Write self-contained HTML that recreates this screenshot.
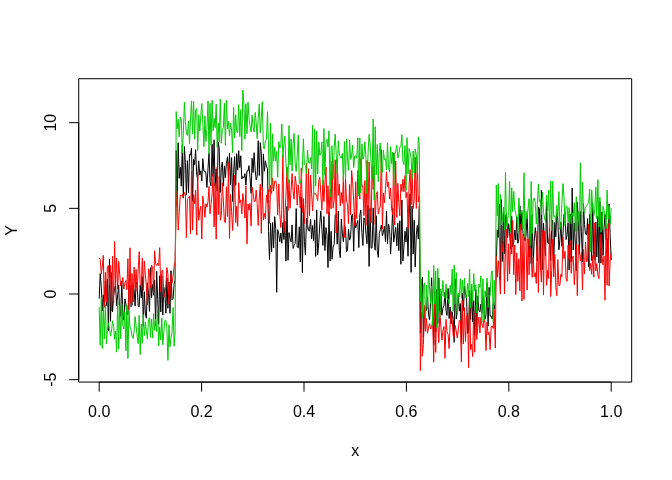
<!DOCTYPE html>
<html><head><meta charset="utf-8"><style>
html,body{margin:0;padding:0;background:#fff;width:672px;height:480px;overflow:hidden}
svg{display:block}
text{font-family:"Liberation Sans",Arial,sans-serif;font-size:16px;fill:#000}
</style></head><body>
<svg width="672" height="480" viewBox="0 0 672 480">
<rect width="672" height="480" fill="#fff"/>
<g shape-rendering="auto">
<rect x="78.72" y="78.72" width="552.96" height="303.36" fill="none" stroke="#000" stroke-width="1" stroke-linejoin="round"/>
<line x1="99.2" y1="382.08" x2="611.2" y2="382.08" stroke="#000" stroke-width="1"/>
<line x1="99.20" y1="382.08" x2="99.20" y2="391.68" stroke="#000" stroke-width="1"/>
<line x1="201.60" y1="382.08" x2="201.60" y2="391.68" stroke="#000" stroke-width="1"/>
<line x1="304.00" y1="382.08" x2="304.00" y2="391.68" stroke="#000" stroke-width="1"/>
<line x1="406.40" y1="382.08" x2="406.40" y2="391.68" stroke="#000" stroke-width="1"/>
<line x1="508.80" y1="382.08" x2="508.80" y2="391.68" stroke="#000" stroke-width="1"/>
<line x1="611.20" y1="382.08" x2="611.20" y2="391.68" stroke="#000" stroke-width="1"/>
<line x1="78.72" y1="379.65" x2="78.72" y2="122.70" stroke="#000" stroke-width="1"/>
<line x1="69.12" y1="379.65" x2="78.72" y2="379.65" stroke="#000" stroke-width="1"/>
<line x1="69.12" y1="294.00" x2="78.72" y2="294.00" stroke="#000" stroke-width="1"/>
<line x1="69.12" y1="208.35" x2="78.72" y2="208.35" stroke="#000" stroke-width="1"/>
<line x1="69.12" y1="122.70" x2="78.72" y2="122.70" stroke="#000" stroke-width="1"/>
</g>
<text x="99.20" y="417" text-anchor="middle">0.0</text>
<text x="201.60" y="417" text-anchor="middle">0.2</text>
<text x="304.00" y="417" text-anchor="middle">0.4</text>
<text x="406.40" y="417" text-anchor="middle">0.6</text>
<text x="508.80" y="417" text-anchor="middle">0.8</text>
<text x="611.20" y="417" text-anchor="middle">1.0</text>
<text transform="translate(55.6,379.65) rotate(-90)" text-anchor="middle">-5</text>
<text transform="translate(55.6,294.00) rotate(-90)" text-anchor="middle">0</text>
<text transform="translate(55.6,208.35) rotate(-90)" text-anchor="middle">5</text>
<text transform="translate(55.6,122.70) rotate(-90)" text-anchor="middle">10</text>
<text x="355.20" y="455.8" text-anchor="middle">x</text>
<text transform="translate(16.9,230.40) rotate(-90)" text-anchor="middle">Y</text>
<g clip-path="none">
<polyline fill="none" stroke="#000000" stroke-width="1" stroke-linejoin="round" stroke-linecap="round" points="99.2,298.3 100.2,273.6 101.3,286.4 102.3,310.9 103.3,294.8 104.3,307.2 105.4,281.1 106.4,305.6 107.4,279.0 108.4,331.1 109.5,259.0 110.5,321.4 111.5,272.6 112.5,311.9 113.6,295.8 114.6,288.4 115.6,285.5 116.6,306.0 117.7,294.8 118.7,284.9 119.7,317.4 120.7,313.2 121.8,281.2 122.8,316.0 123.8,320.1 124.9,299.0 125.9,304.1 126.9,314.3 127.9,314.4 129.0,286.7 130.0,285.1 131.0,306.8 132.0,305.3 133.1,285.2 134.1,289.1 135.1,306.0 136.1,282.2 137.2,284.8 138.2,306.4 139.2,306.8 140.2,285.2 141.3,297.8 142.3,276.7 143.3,326.2 144.3,291.7 145.4,314.0 146.4,318.3 147.4,282.9 148.5,293.8 149.5,311.4 150.5,267.7 151.5,298.0 152.6,284.4 153.6,295.3 154.6,280.1 155.6,325.5 156.7,271.3 157.7,299.5 158.7,324.3 159.7,275.8 160.8,311.9 161.8,275.6 162.8,315.1 163.8,287.3 164.9,294.9 165.9,313.2 166.9,277.8 167.9,308.3 169.0,281.9 170.0,313.3 171.0,270.7 172.0,299.8 173.1,298.4 174.1,284.2 175.1,280.1 176.2,150.5 177.2,198.9 178.2,142.7 179.2,178.3 180.3,167.4 181.3,186.2 182.3,144.8 183.3,198.2 184.4,146.6 185.4,162.7 186.4,195.0 187.4,160.6 188.5,192.7 189.5,154.2 190.5,155.1 191.5,148.0 192.6,201.3 193.6,159.4 194.6,164.6 195.6,149.6 196.7,174.4 197.7,179.3 198.7,160.8 199.8,175.0 200.8,170.8 201.8,180.9 202.8,158.7 203.9,171.1 204.9,171.0 205.9,173.0 206.9,187.5 208.0,168.4 209.0,152.9 210.0,181.7 211.0,185.7 212.1,144.2 213.1,176.3 214.1,139.8 215.1,186.2 216.2,168.8 217.2,191.2 218.2,142.0 219.2,147.9 220.3,192.3 221.3,167.8 222.3,162.0 223.4,186.2 224.4,165.8 225.4,177.6 226.4,163.3 227.5,156.7 228.5,176.5 229.5,153.2 230.5,184.7 231.6,157.6 232.6,201.4 233.6,172.8 234.6,156.6 235.7,185.4 236.7,153.6 237.7,170.2 238.7,150.6 239.8,167.7 240.8,155.8 241.8,179.0 242.8,176.4 243.9,178.2 244.9,173.6 245.9,185.2 247.0,170.7 248.0,171.2 249.0,165.6 250.0,177.5 251.1,193.4 252.1,158.3 253.1,172.5 254.1,152.7 255.2,170.1 256.2,179.9 257.2,176.3 258.2,140.7 259.3,175.5 260.3,142.7 261.3,153.2 262.3,189.9 263.4,153.9 264.4,171.3 265.4,160.8 266.4,166.3 267.5,168.8 268.5,231.6 269.5,259.5 270.6,223.1 271.6,252.1 272.6,222.5 273.6,247.9 274.7,216.6 275.7,228.4 276.7,292.3 277.7,229.7 278.8,234.5 279.8,241.7 280.8,233.0 281.8,243.2 282.9,222.6 283.9,239.5 284.9,221.1 285.9,261.2 287.0,206.4 288.0,260.3 289.0,232.5 290.0,238.2 291.1,241.9 292.1,224.9 293.1,248.4 294.1,245.5 295.2,243.2 296.2,208.5 297.2,247.0 298.3,247.9 299.3,226.8 300.3,261.9 301.3,196.8 302.4,272.7 303.4,204.3 304.4,241.3 305.4,254.9 306.5,218.1 307.5,224.5 308.5,230.4 309.5,231.1 310.6,218.9 311.6,238.9 312.6,225.6 313.6,240.5 314.7,219.8 315.7,256.4 316.7,209.9 317.7,254.8 318.8,242.4 319.8,223.4 320.8,210.9 321.9,229.3 322.9,245.4 323.9,216.5 324.9,250.6 326.0,227.6 327.0,235.6 328.0,267.6 329.0,211.9 330.1,261.1 331.1,231.3 332.1,259.2 333.1,247.0 334.2,244.1 335.2,215.1 336.2,215.1 337.2,244.2 338.3,211.1 339.3,250.5 340.3,257.7 341.3,218.9 342.4,233.8 343.4,241.7 344.4,224.8 345.5,228.4 346.5,251.5 347.5,250.7 348.5,229.3 349.6,240.1 350.6,237.2 351.6,215.6 352.6,213.9 353.7,251.3 354.7,213.7 355.7,228.0 356.7,224.4 357.8,220.5 358.8,247.6 359.8,214.8 360.8,210.0 361.9,232.7 362.9,245.5 363.9,217.8 364.9,220.1 366.0,234.5 367.0,243.7 368.0,205.4 369.1,266.5 370.1,208.3 371.1,248.1 372.1,247.8 373.2,207.9 374.2,242.1 375.2,250.2 376.2,215.7 377.3,250.6 378.3,257.4 379.3,233.6 380.3,229.5 381.4,225.0 382.4,235.6 383.4,232.4 384.4,226.4 385.5,241.5 386.5,211.0 387.5,243.6 388.5,224.0 389.6,229.4 390.6,254.0 391.6,236.1 392.7,208.3 393.7,242.1 394.7,234.9 395.7,227.4 396.8,245.7 397.8,223.2 398.8,250.7 399.8,220.7 400.9,264.3 401.9,200.0 402.9,260.8 403.9,247.1 405.0,231.3 406.0,241.9 407.0,227.3 408.0,256.2 409.1,215.8 410.1,193.8 411.1,272.4 412.1,206.2 413.2,254.0 414.2,220.3 415.2,267.0 416.3,234.9 417.3,225.4 418.3,239.0 419.3,205.9 420.4,333.2 421.4,294.9 422.4,277.3 423.4,337.4 424.5,308.7 425.5,311.4 426.5,310.2 427.5,296.8 428.6,314.8 429.6,319.7 430.6,301.9 431.6,277.8 432.7,308.8 433.7,344.7 434.7,290.7 435.7,332.2 436.8,289.2 437.8,323.5 438.8,277.9 439.8,314.1 440.9,294.3 441.9,315.2 442.9,308.2 444.0,305.6 445.0,292.3 446.0,310.8 447.0,315.4 448.1,288.4 449.1,318.5 450.1,307.1 451.1,323.8 452.2,312.1 453.2,319.2 454.2,342.3 455.2,278.8 456.3,319.1 457.3,309.0 458.3,294.3 459.3,311.2 460.4,303.6 461.4,343.6 462.4,293.0 463.4,310.5 464.5,286.1 465.5,294.1 466.5,295.8 467.6,333.4 468.6,330.7 469.6,290.7 470.6,319.6 471.7,290.7 472.7,321.9 473.7,300.6 474.7,335.5 475.8,289.6 476.8,327.1 477.8,295.8 478.8,310.0 479.9,312.0 480.9,304.1 481.9,313.3 482.9,296.6 484.0,309.0 485.0,319.3 486.0,314.8 487.0,282.8 488.1,326.1 489.1,287.4 490.1,315.9 491.2,316.2 492.2,318.9 493.2,303.7 494.2,309.2 495.3,300.8 496.3,261.4 497.3,230.2 498.3,237.4 499.4,204.3 500.4,280.1 501.4,199.6 502.4,261.4 503.5,211.8 504.5,254.0 505.5,216.8 506.5,213.5 507.6,237.6 508.6,223.7 509.6,231.7 510.6,248.8 511.7,216.3 512.7,246.6 513.7,242.7 514.8,230.0 515.8,240.0 516.8,216.8 517.8,243.3 518.9,239.1 519.9,205.8 520.9,230.1 521.9,212.4 523.0,233.4 524.0,236.1 525.0,240.6 526.0,235.7 527.1,215.4 528.1,241.1 529.1,257.2 530.1,222.4 531.2,263.7 532.2,214.9 533.2,263.7 534.2,241.5 535.3,227.7 536.3,238.3 537.3,261.1 538.4,206.9 539.4,208.7 540.4,269.9 541.4,190.3 542.5,269.4 543.5,222.9 544.5,242.7 545.5,255.9 546.6,201.4 547.6,242.5 548.6,243.7 549.6,234.1 550.7,260.6 551.7,226.1 552.7,220.0 553.7,268.7 554.8,222.4 555.8,236.7 556.8,213.2 557.8,219.1 558.9,249.7 559.9,239.8 560.9,222.3 561.9,246.3 563.0,233.3 564.0,214.2 565.0,212.7 566.1,239.7 567.1,234.5 568.1,222.7 569.1,269.9 570.2,214.1 571.2,262.0 572.2,188.0 573.2,250.1 574.3,222.9 575.3,242.9 576.3,271.0 577.3,202.1 578.4,220.5 579.4,253.7 580.4,211.6 581.4,231.7 582.5,262.0 583.5,203.7 584.5,224.6 585.5,234.1 586.6,234.8 587.6,218.6 588.6,266.9 589.7,214.2 590.7,223.9 591.7,260.5 592.7,203.6 593.8,257.2 594.8,259.5 595.8,222.2 596.8,257.0 597.9,216.0 598.9,262.8 599.9,201.8 600.9,263.1 602.0,212.0 603.0,255.5 604.0,228.6 605.0,214.4 606.1,239.7 607.1,238.3 608.1,254.5 609.1,203.9 610.2,236.3 611.2,259.7"/>
<polyline fill="none" stroke="#FF0000" stroke-width="1" stroke-linejoin="round" stroke-linecap="round" points="99.2,258.0 100.2,259.4 101.3,273.9 102.3,266.7 103.3,255.4 104.3,306.9 105.4,272.3 106.4,302.1 107.4,266.5 108.4,265.5 109.5,284.5 110.5,265.6 111.5,310.8 112.5,256.0 113.6,303.1 114.6,241.5 115.6,284.9 116.6,258.0 117.7,289.2 118.7,261.4 119.7,274.3 120.7,285.9 121.8,282.9 122.8,277.4 123.8,289.0 124.9,283.1 125.9,280.5 126.9,289.7 127.9,258.7 129.0,309.8 130.0,247.8 131.0,303.5 132.0,273.5 133.1,302.1 134.1,267.1 135.1,287.7 136.1,269.4 137.2,291.5 138.2,269.2 139.2,251.7 140.2,284.8 141.3,284.9 142.3,257.9 143.3,290.4 144.3,261.1 145.4,275.3 146.4,286.3 147.4,305.0 148.5,268.7 149.5,272.4 150.5,287.5 151.5,265.2 152.6,266.5 153.6,293.0 154.6,250.7 155.6,263.7 156.7,265.5 157.7,263.1 158.7,265.5 159.7,247.6 160.8,291.6 161.8,270.8 162.8,270.4 163.8,297.0 164.9,295.2 165.9,284.9 166.9,267.6 167.9,274.4 169.0,304.2 170.0,296.3 171.0,273.9 172.0,283.3 173.1,276.0 174.1,266.6 175.1,261.6 176.2,208.6 177.2,190.5 178.2,230.1 179.2,212.7 180.3,195.4 181.3,195.9 182.3,194.5 183.3,197.7 184.4,192.5 185.4,194.6 186.4,237.5 187.4,199.0 188.5,198.0 189.5,195.9 190.5,234.0 191.5,171.1 192.6,230.1 193.6,194.7 194.6,203.7 195.6,190.3 196.7,234.9 197.7,172.8 198.7,220.4 199.8,210.6 200.8,206.2 201.8,239.0 202.8,196.2 203.9,204.7 204.9,217.3 205.9,203.8 206.9,207.2 208.0,201.7 209.0,186.5 210.0,213.8 211.0,204.3 212.1,193.9 213.1,173.9 214.1,226.8 215.1,183.6 216.2,239.1 217.2,167.1 218.2,214.7 219.2,176.5 220.3,220.3 221.3,215.8 222.3,182.7 223.4,201.1 224.4,221.8 225.4,222.7 226.4,186.7 227.5,216.4 228.5,162.8 229.5,238.4 230.5,194.4 231.6,211.2 232.6,230.4 233.6,207.0 234.6,175.0 235.7,222.6 236.7,206.3 237.7,226.3 238.7,182.7 239.8,202.9 240.8,199.9 241.8,213.8 242.8,193.6 243.9,202.2 244.9,218.0 245.9,186.0 247.0,243.8 248.0,203.9 249.0,210.2 250.0,203.3 251.1,225.9 252.1,187.1 253.1,192.9 254.1,201.2 255.2,201.3 256.2,190.0 257.2,203.6 258.2,225.4 259.3,197.0 260.3,184.1 261.3,233.4 262.3,187.4 263.4,220.0 264.4,213.3 265.4,218.7 266.4,194.9 267.5,202.8 268.5,189.8 269.5,223.4 270.6,185.4 271.6,193.4 272.6,177.9 273.6,190.8 274.7,181.2 275.7,180.9 276.7,186.3 277.7,214.8 278.8,183.9 279.8,214.1 280.8,227.5 281.8,209.5 282.9,155.0 283.9,232.9 284.9,215.2 285.9,196.2 287.0,166.9 288.0,210.8 289.0,179.4 290.0,208.3 291.1,190.2 292.1,173.6 293.1,190.8 294.1,199.2 295.2,176.2 296.2,183.9 297.2,205.1 298.3,184.9 299.3,195.4 300.3,208.0 301.3,167.9 302.4,212.5 303.4,198.5 304.4,223.5 305.4,204.4 306.5,163.7 307.5,229.2 308.5,168.6 309.5,215.6 310.6,175.1 311.6,193.7 312.6,210.8 313.6,193.0 314.7,194.4 315.7,193.4 316.7,196.7 317.7,200.6 318.8,180.3 319.8,177.3 320.8,193.8 321.9,210.1 322.9,180.0 323.9,201.7 324.9,183.0 326.0,167.2 327.0,213.7 328.0,185.8 329.0,216.2 330.1,189.8 331.1,208.8 332.1,161.1 333.1,208.2 334.2,199.9 335.2,159.8 336.2,233.0 337.2,160.0 338.3,195.3 339.3,184.0 340.3,205.9 341.3,192.4 342.4,203.4 343.4,176.2 344.4,237.5 345.5,177.8 346.5,201.1 347.5,203.7 348.5,223.6 349.6,184.3 350.6,214.7 351.6,170.6 352.6,180.9 353.7,201.1 354.7,226.2 355.7,181.7 356.7,218.6 357.8,170.6 358.8,175.5 359.8,199.1 360.8,158.7 361.9,186.4 362.9,185.9 363.9,215.7 364.9,180.5 366.0,225.3 367.0,160.3 368.0,209.9 369.1,162.0 370.1,205.4 371.1,222.8 372.1,166.7 373.2,189.4 374.2,165.2 375.2,224.4 376.2,194.2 377.3,191.6 378.3,214.1 379.3,209.3 380.3,206.6 381.4,149.6 382.4,229.1 383.4,193.0 384.4,202.8 385.5,189.2 386.5,171.8 387.5,186.8 388.5,182.0 389.6,199.0 390.6,188.2 391.6,209.0 392.7,214.9 393.7,152.9 394.7,224.9 395.7,161.0 396.8,217.4 397.8,183.4 398.8,202.3 399.8,215.8 400.9,184.1 401.9,191.5 402.9,179.2 403.9,191.8 405.0,175.6 406.0,197.7 407.0,192.3 408.0,228.4 409.1,184.9 410.1,169.6 411.1,204.6 412.1,173.9 413.2,208.5 414.2,200.0 415.2,157.3 416.3,208.4 417.3,161.5 418.3,202.0 419.3,196.0 420.4,370.7 421.4,312.5 422.4,356.3 423.4,344.5 424.5,305.4 425.5,331.3 426.5,318.5 427.5,333.2 428.6,326.9 429.6,323.6 430.6,329.1 431.6,327.5 432.7,318.9 433.7,362.2 434.7,300.7 435.7,352.4 436.8,306.2 437.8,324.5 438.8,342.7 439.8,311.4 440.9,326.9 441.9,340.0 442.9,331.1 444.0,326.5 445.0,358.3 446.0,319.3 447.0,331.7 448.1,334.5 449.1,348.6 450.1,324.8 451.1,311.1 452.2,320.3 453.2,335.7 454.2,337.7 455.2,325.5 456.3,331.2 457.3,338.1 458.3,329.8 459.3,320.4 460.4,320.7 461.4,362.1 462.4,300.7 463.4,343.9 464.5,307.5 465.5,341.4 466.5,317.3 467.6,313.0 468.6,367.7 469.6,293.2 470.6,349.6 471.7,344.3 472.7,356.6 473.7,310.9 474.7,352.2 475.8,305.4 476.8,339.5 477.8,326.2 478.8,317.2 479.9,333.0 480.9,317.4 481.9,323.8 482.9,327.7 484.0,319.2 485.0,323.4 486.0,350.6 487.0,322.1 488.1,334.8 489.1,332.1 490.1,349.6 491.2,326.9 492.2,325.9 493.2,328.5 494.2,309.6 495.3,347.9 496.3,255.9 497.3,277.2 498.3,260.8 499.4,275.6 500.4,294.1 501.4,237.0 502.4,251.8 503.5,241.4 504.5,293.8 505.5,248.4 506.5,229.2 507.6,281.4 508.6,243.8 509.6,274.0 510.6,234.1 511.7,254.0 512.7,220.5 513.7,274.8 514.8,244.9 515.8,294.5 516.8,252.8 517.8,281.5 518.9,258.8 519.9,290.8 520.9,224.0 521.9,301.0 523.0,234.2 524.0,299.4 525.0,233.9 526.0,239.3 527.1,290.0 528.1,239.0 529.1,274.7 530.1,248.5 531.2,258.4 532.2,277.4 533.2,257.6 534.2,276.8 535.3,272.7 536.3,283.4 537.3,231.0 538.4,292.5 539.4,232.0 540.4,264.9 541.4,282.2 542.5,230.1 543.5,295.1 544.5,231.3 545.5,244.9 546.6,285.4 547.6,270.4 548.6,278.4 549.6,214.9 550.7,296.6 551.7,270.9 552.7,239.2 553.7,277.1 554.8,254.4 555.8,286.7 556.8,295.7 557.8,259.5 558.9,285.6 559.9,285.3 560.9,274.2 561.9,276.9 563.0,236.9 564.0,258.6 565.0,251.4 566.1,278.8 567.1,281.4 568.1,245.1 569.1,259.6 570.2,240.5 571.2,273.3 572.2,258.8 573.2,256.0 574.3,284.8 575.3,268.1 576.3,244.2 577.3,295.7 578.4,244.9 579.4,252.3 580.4,260.9 581.4,252.2 582.5,289.9 583.5,249.5 584.5,273.9 585.5,242.2 586.6,261.9 587.6,260.6 588.6,224.2 589.7,270.5 590.7,263.4 591.7,274.3 592.7,255.6 593.8,277.1 594.8,222.7 595.8,271.0 596.8,263.5 597.9,275.0 598.9,278.6 599.9,258.7 600.9,234.3 602.0,256.3 603.0,264.9 604.0,256.0 605.0,300.3 606.1,226.0 607.1,285.2 608.1,223.4 609.1,286.1 610.2,259.1 611.2,252.9"/>
<polyline fill="none" stroke="#00CD00" stroke-width="1" stroke-linejoin="round" stroke-linecap="round" points="99.2,307.7 100.2,345.4 101.3,297.8 102.3,348.5 103.3,305.9 104.3,338.9 105.4,304.9 106.4,343.9 107.4,330.5 108.4,322.9 109.5,328.6 110.5,336.2 111.5,331.0 112.5,320.8 113.6,326.1 114.6,339.2 115.6,331.0 116.6,352.1 117.7,301.1 118.7,349.2 119.7,305.4 120.7,338.8 121.8,303.8 122.8,325.1 123.8,329.0 124.9,312.4 125.9,350.8 126.9,305.4 127.9,358.5 129.0,310.4 130.0,327.1 131.0,329.3 132.0,336.0 133.1,338.4 134.1,331.1 135.1,316.6 136.1,325.8 137.2,336.4 138.2,343.7 139.2,315.2 140.2,354.5 141.3,324.0 142.3,343.2 143.3,314.6 144.3,335.6 145.4,321.9 146.4,331.3 147.4,339.1 148.5,319.2 149.5,317.7 150.5,337.5 151.5,318.8 152.6,338.1 153.6,313.7 154.6,330.4 155.6,319.1 156.7,331.7 157.7,309.5 158.7,345.8 159.7,327.0 160.8,340.0 161.8,317.8 162.8,344.7 163.8,331.7 164.9,320.4 165.9,320.3 166.9,328.1 167.9,360.4 169.0,324.8 170.0,346.8 171.0,337.9 172.0,332.2 173.1,307.4 174.1,346.3 175.1,332.0 176.2,111.6 177.2,128.9 178.2,119.3 179.2,137.0 180.3,117.1 181.3,120.1 182.3,152.8 183.3,133.5 184.4,102.4 185.4,121.3 186.4,133.3 187.4,135.6 188.5,120.9 189.5,143.7 190.5,118.9 191.5,100.9 192.6,133.8 193.6,101.2 194.6,139.1 195.6,110.2 196.7,108.5 197.7,150.5 198.7,114.7 199.8,131.0 200.8,115.7 201.8,103.5 202.8,123.3 203.9,146.8 204.9,115.9 205.9,141.6 206.9,129.6 208.0,101.0 209.0,154.2 210.0,103.3 211.0,144.9 212.1,100.2 213.1,130.7 214.1,118.3 215.1,127.8 216.2,104.1 217.2,147.4 218.2,122.9 219.2,141.7 220.3,99.1 221.3,143.2 222.3,130.6 223.4,127.3 224.4,103.3 225.4,145.4 226.4,100.1 227.5,128.9 228.5,121.5 229.5,136.1 230.5,123.0 231.6,130.0 232.6,152.7 233.6,107.4 234.6,137.8 235.7,114.8 236.7,131.7 237.7,132.8 238.7,104.6 239.8,136.6 240.8,109.7 241.8,150.6 242.8,90.0 243.9,102.8 244.9,139.2 245.9,103.8 247.0,133.7 248.0,102.1 249.0,117.9 250.0,125.8 251.1,132.0 252.1,115.1 253.1,127.5 254.1,132.0 255.2,112.4 256.2,122.6 257.2,138.6 258.2,118.1 259.3,104.0 260.3,132.9 261.3,117.7 262.3,101.7 263.4,148.1 264.4,148.7 265.4,140.7 266.4,139.4 267.5,111.7 268.5,146.7 269.5,191.6 270.6,123.3 271.6,191.0 272.6,133.8 273.6,161.1 274.7,147.3 275.7,161.2 276.7,151.5 277.7,177.3 278.8,141.6 279.8,148.0 280.8,145.6 281.8,124.1 282.9,157.6 283.9,144.2 284.9,136.2 285.9,163.4 287.0,174.3 288.0,182.8 289.0,125.7 290.0,164.9 291.1,139.0 292.1,171.1 293.1,143.7 294.1,133.4 295.2,163.5 296.2,171.6 297.2,156.2 298.3,135.0 299.3,183.9 300.3,182.8 301.3,179.5 302.4,166.9 303.4,138.8 304.4,164.4 305.4,165.4 306.5,173.3 307.5,150.0 308.5,162.6 309.5,163.1 310.6,157.5 311.6,168.8 312.6,125.2 313.6,199.4 314.7,128.9 315.7,185.9 316.7,131.0 317.7,174.1 318.8,141.9 319.8,155.3 320.8,153.9 321.9,141.8 322.9,184.7 323.9,128.6 324.9,175.3 326.0,141.1 327.0,139.3 328.0,146.9 329.0,130.8 330.1,197.0 331.1,146.8 332.1,145.6 333.1,179.7 334.2,147.5 335.2,134.2 336.2,154.0 337.2,173.6 338.3,140.8 339.3,154.0 340.3,156.8 341.3,158.2 342.4,153.5 343.4,181.5 344.4,141.6 345.5,179.2 346.5,138.8 347.5,158.7 348.5,170.3 349.6,140.0 350.6,159.3 351.6,156.0 352.6,145.0 353.7,167.7 354.7,155.8 355.7,155.7 356.7,158.1 357.8,137.7 358.8,196.0 359.8,137.9 360.8,192.9 361.9,143.9 362.9,159.2 363.9,155.7 364.9,141.8 366.0,159.5 367.0,193.7 368.0,153.5 369.1,134.4 370.1,143.4 371.1,162.5 372.1,179.2 373.2,119.0 374.2,200.1 375.2,126.7 376.2,174.9 377.3,144.4 378.3,181.7 379.3,151.0 380.3,143.0 381.4,172.7 382.4,172.5 383.4,150.2 384.4,159.8 385.5,158.8 386.5,170.0 387.5,142.5 388.5,167.3 389.6,172.1 390.6,146.6 391.6,163.6 392.7,152.1 393.7,185.7 394.7,154.8 395.7,151.3 396.8,145.2 397.8,157.9 398.8,154.6 399.8,146.8 400.9,146.3 401.9,134.7 402.9,161.4 403.9,164.6 405.0,145.5 406.0,190.2 407.0,137.7 408.0,174.0 409.1,148.6 410.1,152.9 411.1,158.0 412.1,179.3 413.2,151.0 414.2,172.8 415.2,149.0 416.3,154.6 417.3,173.5 418.3,136.9 419.3,145.5 420.4,301.4 421.4,279.0 422.4,318.0 423.4,286.6 424.5,282.8 425.5,319.3 426.5,285.2 427.5,308.8 428.6,270.8 429.6,289.1 430.6,303.4 431.6,285.9 432.7,325.4 433.7,265.5 434.7,303.8 435.7,270.9 436.8,327.9 437.8,268.4 438.8,310.7 439.8,317.4 440.9,289.0 441.9,296.0 442.9,280.5 444.0,296.6 445.0,298.3 446.0,284.1 447.0,298.9 448.1,299.0 449.1,304.0 450.1,285.3 451.1,294.6 452.2,269.1 453.2,311.5 454.2,265.3 455.2,303.9 456.3,272.5 457.3,314.8 458.3,293.3 459.3,297.0 460.4,278.8 461.4,297.7 462.4,280.3 463.4,294.9 464.5,278.1 465.5,297.8 466.5,297.8 467.6,283.4 468.6,296.4 469.6,269.3 470.6,307.7 471.7,283.8 472.7,301.7 473.7,273.6 474.7,290.9 475.8,284.8 476.8,313.0 477.8,303.2 478.8,284.1 479.9,287.3 480.9,275.9 481.9,322.0 482.9,278.8 484.0,320.0 485.0,290.8 486.0,297.0 487.0,278.0 488.1,307.5 489.1,295.4 490.1,296.1 491.2,274.8 492.2,270.8 493.2,321.7 494.2,280.2 495.3,305.1 496.3,185.0 497.3,216.0 498.3,183.6 499.4,237.4 500.4,194.5 501.4,224.8 502.4,220.1 503.5,207.2 504.5,229.6 505.5,172.4 506.5,225.6 507.6,218.4 508.6,215.5 509.6,181.4 510.6,231.8 511.7,187.8 512.7,211.8 513.7,191.4 514.8,208.9 515.8,213.8 516.8,217.6 517.8,233.3 518.9,198.0 519.9,213.5 520.9,213.9 521.9,210.1 523.0,228.7 524.0,172.6 525.0,237.5 526.0,211.3 527.1,218.8 528.1,208.1 529.1,198.6 530.1,246.1 531.2,181.5 532.2,233.6 533.2,199.9 534.2,198.1 535.3,203.1 536.3,224.0 537.3,204.1 538.4,183.9 539.4,201.4 540.4,199.7 541.4,214.7 542.5,192.0 543.5,212.4 544.5,217.5 545.5,222.2 546.6,195.1 547.6,211.0 548.6,190.1 549.6,227.3 550.7,180.8 551.7,230.6 552.7,181.1 553.7,216.6 554.8,215.8 555.8,222.1 556.8,205.5 557.8,216.3 558.9,191.6 559.9,229.5 560.9,223.4 561.9,203.1 563.0,183.6 564.0,197.1 565.0,225.9 566.1,206.0 567.1,206.4 568.1,222.2 569.1,207.5 570.2,215.5 571.2,223.9 572.2,212.8 573.2,216.3 574.3,202.7 575.3,231.4 576.3,196.7 577.3,231.2 578.4,211.7 579.4,226.7 580.4,162.8 581.4,226.0 582.5,182.0 583.5,211.7 584.5,212.7 585.5,207.2 586.6,206.3 587.6,204.1 588.6,202.8 589.7,189.1 590.7,251.7 591.7,189.9 592.7,209.0 593.8,216.1 594.8,209.2 595.8,186.9 596.8,218.7 597.9,179.7 598.9,226.8 599.9,197.2 600.9,232.1 602.0,229.5 603.0,206.3 604.0,210.5 605.0,215.1 606.1,228.5 607.1,190.0 608.1,218.9 609.1,205.1 610.2,224.6 611.2,208.4"/>
</g>
</svg>
</body></html>
